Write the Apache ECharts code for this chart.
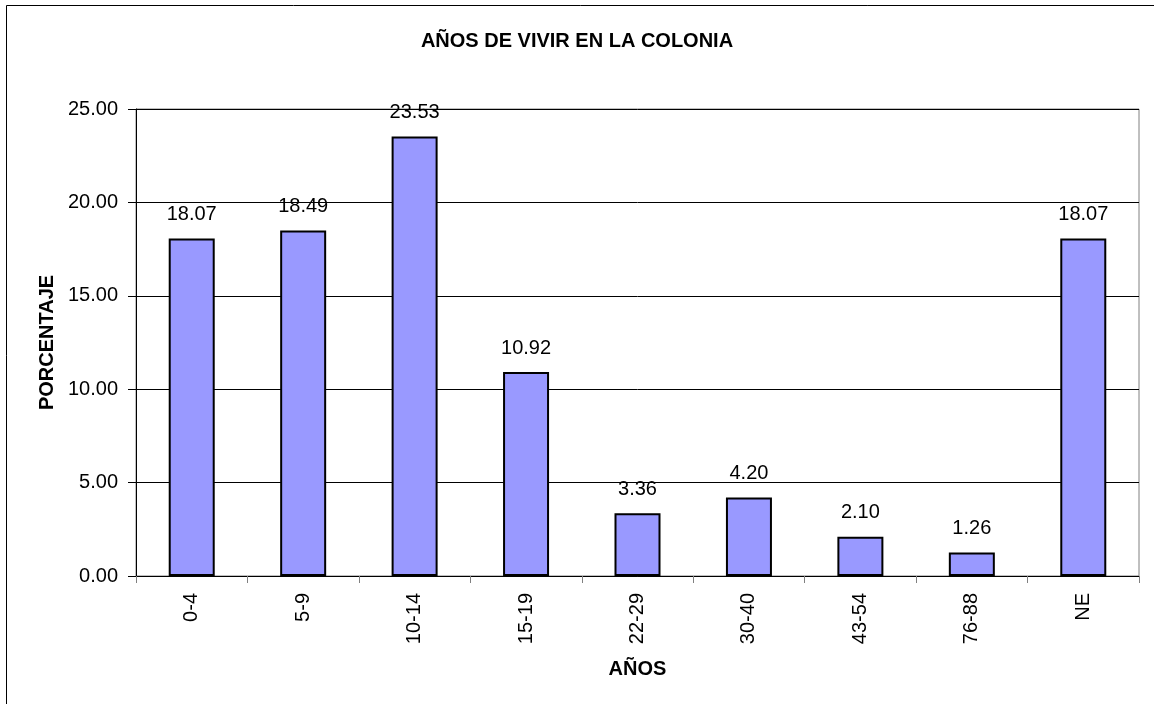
<!DOCTYPE html>
<html>
<head>
<meta charset="utf-8">
<script src="https://cdn.jsdelivr.net/npm/echarts@6/dist/echarts.min.js"></script>
<style>
html,body{margin:0;padding:0;background:#fff;}
#c{width:1154px;height:704px;}
</style>
</head>
<body>
<div id="c"></div>
<script>
const categories = ['0-4','5-9','10-14','15-19','22-29','30-40','43-54','76-88','NE'];
const porcentaje = [18.07, 18.49, 23.53, 10.92, 3.36, 4.20, 2.10, 1.26, 18.07];
const yTicks = [0, 5, 10, 15, 20, 25];

const FONT = '"Liberation Sans", Arial, sans-serif';
const chart = echarts.init(document.getElementById('c'), null, {renderer: 'canvas'});
chart.setOption({
  animation: false,
  backgroundColor: '#fff',
  title: {
    text: 'AÑOS DE VIVIR EN LA COLONIA',
    left: 'center',
    top: 26,
    textStyle: {fontFamily: FONT, fontSize: 20, fontWeight: 'bold', color: '#000'}
  },
  graphic: [{
    type: 'rect',
    shape: {x: 6.5, y: 5.5, width: 1200, height: 800},
    style: {fill: 'none', stroke: '#000', lineWidth: 1},
    silent: true
  }],
  grid: {
    left: 136, right: 15, top: 109, bottom: 128,
    show: true, borderColor: '#808080', borderWidth: 1, backgroundColor: '#fff'
  },
  xAxis: {
    type: 'category',
    data: categories,
    name: 'AÑOS',
    nameLocation: 'middle',
    nameGap: 83,
    nameTextStyle: {fontFamily: FONT, fontSize: 20, fontWeight: 'bold', color: '#000'},
    axisLine: {lineStyle: {color: '#000', width: 1}},
    axisTick: {show: true, length: 7, lineStyle: {color: '#808080'}},
    axisLabel: {rotate: 90, margin: 17, fontFamily: FONT, fontSize: 20, color: '#000'}
  },
  yAxis: {
    type: 'value',
    min: yTicks[0], max: yTicks[yTicks.length - 1], interval: 5,
    name: 'PORCENTAJE',
    nameLocation: 'middle',
    nameGap: 79,
    nameRotate: 90,
    nameTextStyle: {fontFamily: FONT, fontSize: 20, fontWeight: 'bold', color: '#000'},
    axisLine: {show: true, lineStyle: {color: '#000', width: 1}},
    axisTick: {show: true, length: 8, lineStyle: {color: '#000'}},
    axisLabel: {margin: 18, fontFamily: FONT, fontSize: 20, color: '#000',
      formatter: v => v.toFixed(2)},
    splitLine: {show: true, lineStyle: {color: '#000', width: 1}}
  },
  series: [{
    type: 'bar',
    data: porcentaje,
    barWidth: 46,
    itemStyle: {color: '#9999FF', borderColor: '#000', borderWidth: 2},
    label: {
      show: true, position: 'top', distance: 14,
      fontFamily: FONT, fontSize: 20, color: '#000',
      formatter: p => p.value.toFixed(2)
    }
  }]
});
</script>
</body>
</html>
